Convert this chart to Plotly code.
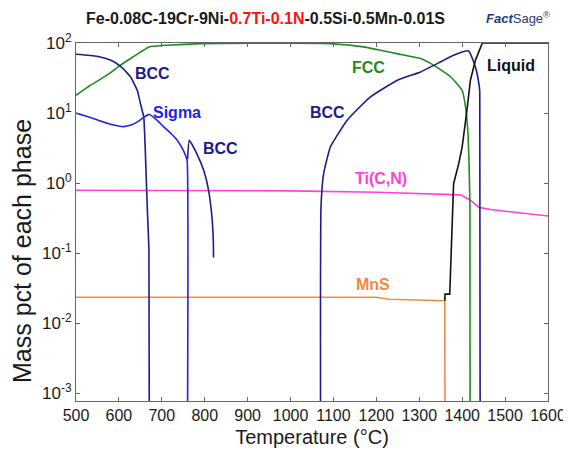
import plotly.graph_objects as go
import math

# ---- data (temperature in °C, mass pct) ----
bcc1_T = [500, 549, 580, 604, 627, 643, 650, 654, 658, 662, 666, 670, 671]
bcc1_Y = [69, 64.6, 57, 46.5, 33, 21, 13.8, 11, 8.7, 2.4, 0.46, 0.11, 0.0001]

sigma_T = [500, 530, 560, 590, 610, 630, 645, 658, 666, 670, 690, 705, 720, 736, 748, 755, 759, 759.5]
sigma_Y = [10, 8.8, 7.6, 6.7, 6.4, 6.8, 7.6, 8.7, 9.3, 9.6, 7.8, 6.3, 5.2, 4.1, 3.1, 2.5, 2.1, 0.0001]

bcc2_T = [760, 764, 782, 798, 809, 817, 820, 820.5]
bcc2_Y = [2.2, 4.1, 2.6, 1.5, 0.79, 0.32, 0.15, 0.087]

fcc_T = [500, 534, 573, 600, 627, 650, 670, 713, 790, 900, 1000, 1093, 1170, 1209,
         1250, 1303, 1334, 1373, 1400, 1408, 1413, 1416, 1418, 1418.5]
fcc_Y = [17.9, 25, 35, 46.5, 60, 74, 88, 93, 98, 99, 99, 98, 88, 79,
         70, 60, 48, 33, 21, 12, 5.7, 1.9, 0.5, 0.0001]

bcc3_T = [1070, 1071, 1077, 1093, 1132, 1186, 1249, 1303, 1349, 1380, 1415, 1431, 1439, 1441, 1442]
bcc3_Y = [0.0001, 0.46, 1.36, 3.3, 7.9, 17, 29.4, 38.6, 53.5, 67, 77, 45, 26, 20, 0.0001]

liq_T = [1359.5, 1360, 1371, 1380, 1392, 1400, 1412, 1419, 1431, 1447, 1600]
liq_Y = [0.021, 0.026, 0.026, 0.98, 1.9, 3.3, 12.2, 29, 57, 100, 100]

ticn_T = [500, 800, 1000, 1200, 1300, 1380, 1396, 1419, 1439, 1466, 1600]
ticn_Y = [0.79, 0.785, 0.775, 0.74, 0.715, 0.70, 0.68, 0.57, 0.45, 0.42, 0.34]

mns_T = [500, 1200, 1230, 1359.5, 1360]
mns_Y = [0.0235, 0.0235, 0.022, 0.021, 0.0001]

x_ticks = list(range(500, 1601, 100))
y_ticks = [1e-3, 1e-2, 1e-1, 1e0, 1e1, 1e2]
y_ticktext = ["10<sup>-3</sup>", "10<sup>-2</sup>", "10<sup>-1</sup>",
              "10<sup>0</sup>", "10<sup>1</sup>", "10<sup>2</sup>"]

# phase labels: (text, T, value, colour)
labels = [
    ("BCC", 678, 37.2, "#1c1c8a"),
    ("Sigma", 736, 10.3, "#2323e8"),
    ("BCC", 837, 3.1, "#1c1c8a"),
    ("FCC", 1182, 45.4, "#1e8c1e"),
    ("BCC", 1085, 10.3, "#1c1c8a"),
    ("Liquid", 1513, 47.9, "#111111"),
    ("Ti(C,N)", 1210, 1.16, "#ff40dd"),
    ("MnS", 1191, 0.0357, "#ef8a40"),
]

NAVY = "#1c1c8a"
BLUE = "#2323e8"
GREEN = "#1e8c1e"
MAGENTA = "#ff40dd"
ORANGE = "#f28c46"
FONT = "Liberation Sans, Arial, sans-serif"

fig = go.Figure()
series = [
    (mns_T, mns_Y, ORANGE, "linear"),
    (ticn_T, ticn_Y, MAGENTA, "linear"),
    (fcc_T, fcc_Y, GREEN, "spline"),
    (bcc1_T, bcc1_Y, NAVY, "spline"),
    (bcc2_T, bcc2_Y, NAVY, "spline"),
    (sigma_T, sigma_Y, BLUE, "spline"),
    (bcc3_T, bcc3_Y, NAVY, "spline"),
    (liq_T, liq_Y, "#111111", "linear"),
]
for xs, ys, c, shp in series:
    line = dict(color=c, width=1.6, shape=shp)
    if shp == "spline":
        line["smoothing"] = 0.4
    fig.add_trace(go.Scatter(x=xs, y=ys, mode="lines", line=line,
                             showlegend=False, hoverinfo="skip"))

for txt, t, v, c in labels:
    fig.add_annotation(x=t, y=math.log10(v), xref="x", yref="y", text="<b>%s</b>" % txt,
                       showarrow=False, font=dict(family=FONT, size=16, color=c))

# the page body has an 8px margin, so the figure is made 8px smaller
OFF = 8
W, H = 571 - OFF, 454 - OFF
ML, MR, MT, MB = 76 - OFF, 23, 43 - OFF, 53

def px_to_paper(px, py):
    # px, py are page pixel positions
    px -= OFF
    py -= OFF
    return (px - ML) / (W - ML - MR), 1 + (MT - py) / (H - MT - MB)

tx, ty = px_to_paper(265, 18)
fig.add_annotation(x=tx, y=ty, xref="paper", yref="paper", xanchor="center", yanchor="middle",
                   text="<b>Fe-0.08C-19Cr-9Ni-<span style='color:#ff1010'>0.7Ti-0.1N</span>-0.5Si-0.5Mn-0.01S</b>",
                   showarrow=False, font=dict(family=FONT, size=16, color="#1a1a1a"))
lx, ly = px_to_paper(518, 18)
fig.add_annotation(x=lx, y=ly, xref="paper", yref="paper", xanchor="center", yanchor="middle",
                   text="<b><i>Fact</i></b>Sage<sup>®</sup>",
                   showarrow=False, font=dict(family=FONT, size=13, color="#1f3c78"))
yx, yy = px_to_paper(22, 251)
fig.add_annotation(x=yx, y=yy, xref="paper", yref="paper", textangle=-90,
                   xanchor="center", yanchor="middle",
                   text="Mass pct of each phase", showarrow=False,
                   font=dict(family=FONT, size=25, color="#1a1a1a"))

fig.update_layout(
    width=W, height=H,
    margin=dict(l=ML, r=MR, t=MT, b=MB, autoexpand=False),
    paper_bgcolor="white", plot_bgcolor="white",
    font=dict(family=FONT, color="#1a1a1a"),
)
fig.update_xaxes(range=[500, 1600], tickvals=x_ticks, ticks="inside", ticklen=4,
                 tickcolor="#666", showline=True, linecolor="#666", linewidth=1,
                 mirror="ticks", showgrid=False, zeroline=False, automargin=False,
                 tickfont=dict(size=16, family=FONT, color="#1a1a1a"),
                 title=dict(text="Temperature (°C)", font=dict(size=20, family=FONT), standoff=6))
fig.update_yaxes(type="log", range=[-3.11, 2], tickvals=y_ticks, ticktext=y_ticktext,
                 ticks="inside", ticklen=4, tickcolor="#666", showline=True, linecolor="#666",
                 linewidth=1, mirror="ticks", showgrid=False, zeroline=False, automargin=False,
                 tickfont=dict(size=17, family=FONT, color="#1a1a1a"))

fig.write_html("out.html")
